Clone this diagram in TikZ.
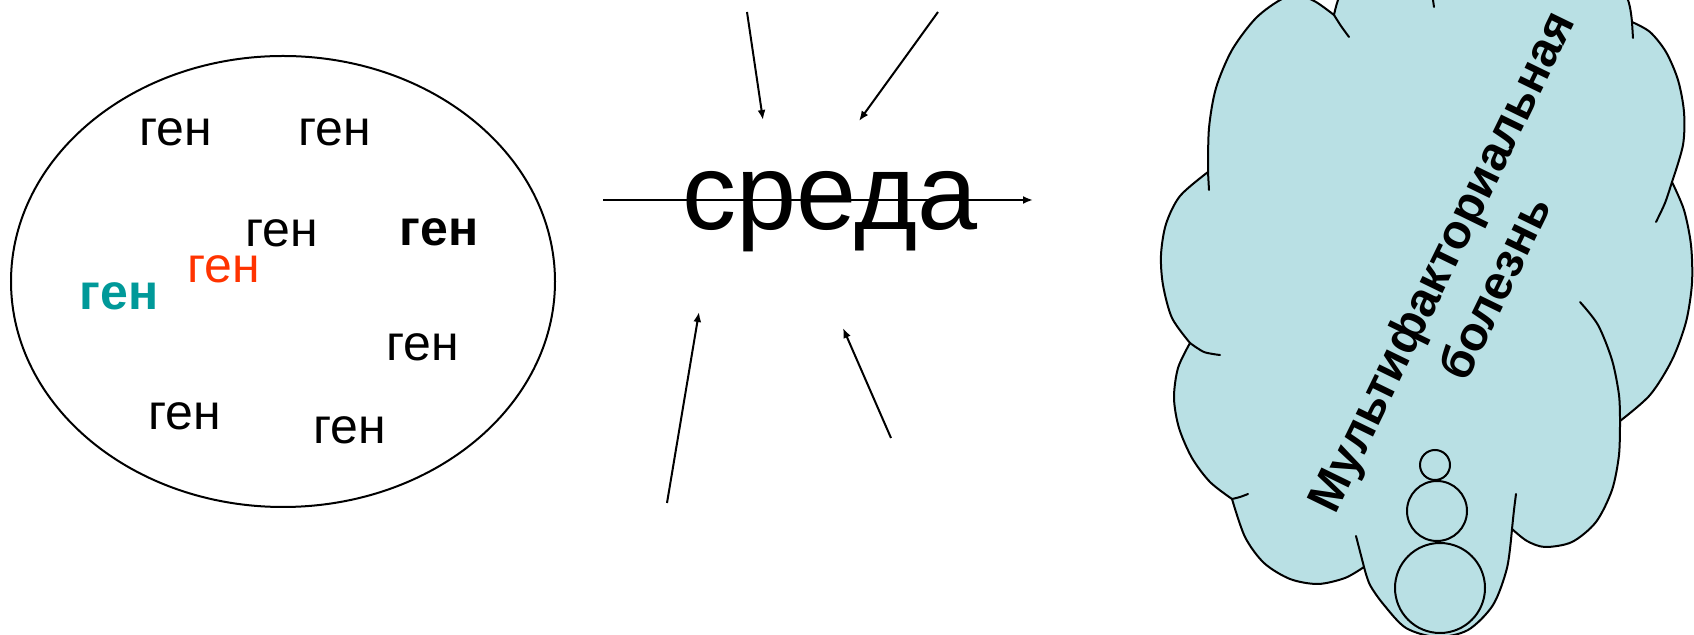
\documentclass[tikz,border=0pt]{standalone}
\usepackage{fontspec}
\setmainfont{Liberation Sans}
\usetikzlibrary{arrows.meta}
\definecolor{cloudfill}{RGB}{185,224,228}
\definecolor{genteal}{RGB}{0,153,153}
\definecolor{genred}{RGB}{255,51,0}
\begin{document}
\begin{tikzpicture}[x=0.5pt,y=-0.5pt,
  gene/.style={inner sep=0pt,font=\fontsize{25}{30}\selectfont},
  genebold/.style={gene,font=\bfseries\fontsize{25}{30}\selectfont},
  outline/.style={line width=1pt,draw=black},
  ray/.style={line width=1pt,-{Latex[length=5pt,width=4pt]}},
  innerarc/.style={line width=1pt,line cap=round}]
\useasboundingbox (0,0) rectangle (1694,635);
\begin{scope}
\clip (0,0) rectangle (1694,635);
% gene pool
\draw[outline] (283,281.5) ellipse [x radius=272, y radius=225.5];
\node[gene] (g1) at (176,132) {ген};
\node[gene] (g2) at (335,132) {ген};
\node[gene] (g3) at (282,233) {ген};
\node[genebold] (g4) at (439,232) {ген};
\node[gene,text=genred] (g5) at (224,269) {ген};
\node[genebold,text=genteal] (g6) at (119,296) {ген};
\node[gene] (g7) at (423,347) {ген};
\node[gene] (g8) at (185,416) {ген};
\node[gene] (g9) at (350,430) {ген};
% environment
\node[inner sep=0pt,anchor=base,font=\fontsize{54}{60}\selectfont] (env) at (830,230) {среда};
\coordinate (hs) at (603,200);
\coordinate (he) at (1033,200);
\coordinate (a1s) at (747,12);  \coordinate (a1e) at (763,120);
\coordinate (a2s) at (938,12);  \coordinate (a2e) at (859,121);
\coordinate (a3s) at (667,503); \coordinate (a3e) at (699,312);
\coordinate (a4s) at (891,438); \coordinate (a4e) at (843,328);
\draw[ray] (hs) -- (he);
\draw[ray] (a1s) -- (a1e);
\draw[ray] (a2s) -- (a2e);
\draw[ray] (a3s) -- (a3e);
\draw[ray] (a4s) -- (a4e);
% cloud
\filldraw[fill=cloudfill,outline,line join=round] (1208,172)
  -- plot[smooth] coordinates {(1208,172) (1209,128) (1216,88) (1232,50) (1256,18) (1282,-1) (1300,-4) (1316,2) (1334,15)}
  -- plot[smooth] coordinates {(1334,15) (1338,0) (1350,-30) (1400,-70) (1480,-85) (1560,-70) (1612,-30) (1628,0) (1632,22)}
  -- plot[smooth] coordinates {(1632,22) (1650,32) (1666,52) (1678,80) (1684,112) (1683,145) (1672,182)}
  -- plot[smooth] coordinates {(1672,182) (1684,210) (1691,245) (1692,283) (1686,322) (1672,360) (1650,395) (1620,421)}
  -- plot[smooth] coordinates {(1620,421) (1619,455) (1612,490) (1596,522) (1572,542) (1545,547) (1527,541) (1512,529)}
  -- plot[smooth] coordinates {(1512,529) (1507,568) (1493,605) (1468,630) (1437,637) (1406,628) (1384,605) (1370,585) (1364,567)}
  -- plot[smooth] coordinates {(1364,567) (1345,578) (1318,584) (1290,579) (1264,563) (1245,537) (1232,499)}
  -- plot[smooth] coordinates {(1232,499) (1210,482) (1192,458) (1179,428) (1174,398) (1178,368) (1190,343)}
  -- plot[smooth] coordinates {(1190,343) (1172,318) (1163,285) (1161,255) (1166,224) (1180,196) (1208,172)}
  -- cycle;
\draw[innerarc] (1208,172) -- (1209,190);
\draw[innerarc] plot[smooth] coordinates {(1334,15) (1341,26) (1349,37)};
\draw[innerarc] (1632,22) -- (1633,38);
\draw[innerarc] plot[smooth] coordinates {(1672,182) (1665,203) (1656,222)};
\draw[innerarc] plot[smooth] coordinates {(1580,302) (1598,325) (1612,360) (1619,395) (1620,421)};
\draw[innerarc] plot[smooth] coordinates {(1512,529) (1514,510) (1516,494)};
\draw[innerarc] (1356,536) -- (1364,567);
\draw[innerarc] plot[smooth] coordinates {(1232,499) (1240,497) (1248,494)};
\draw[innerarc] plot[smooth] coordinates {(1190,343) (1204,352) (1220,355)};
\draw[innerarc] (1433,0) -- (1434,7);
\draw[outline] (1435,465) circle [radius=15];
\draw[outline] (1437,511) circle [radius=30];
\draw[outline] (1440,588) circle [radius=45];
\node[rotate=64,align=center,inner sep=0pt,font=\bfseries\fontsize{24}{30}\selectfont] (dis) at (1467,274) {Мультифакториальная\\болезнь};
\end{scope}
\end{tikzpicture}
\end{document}
